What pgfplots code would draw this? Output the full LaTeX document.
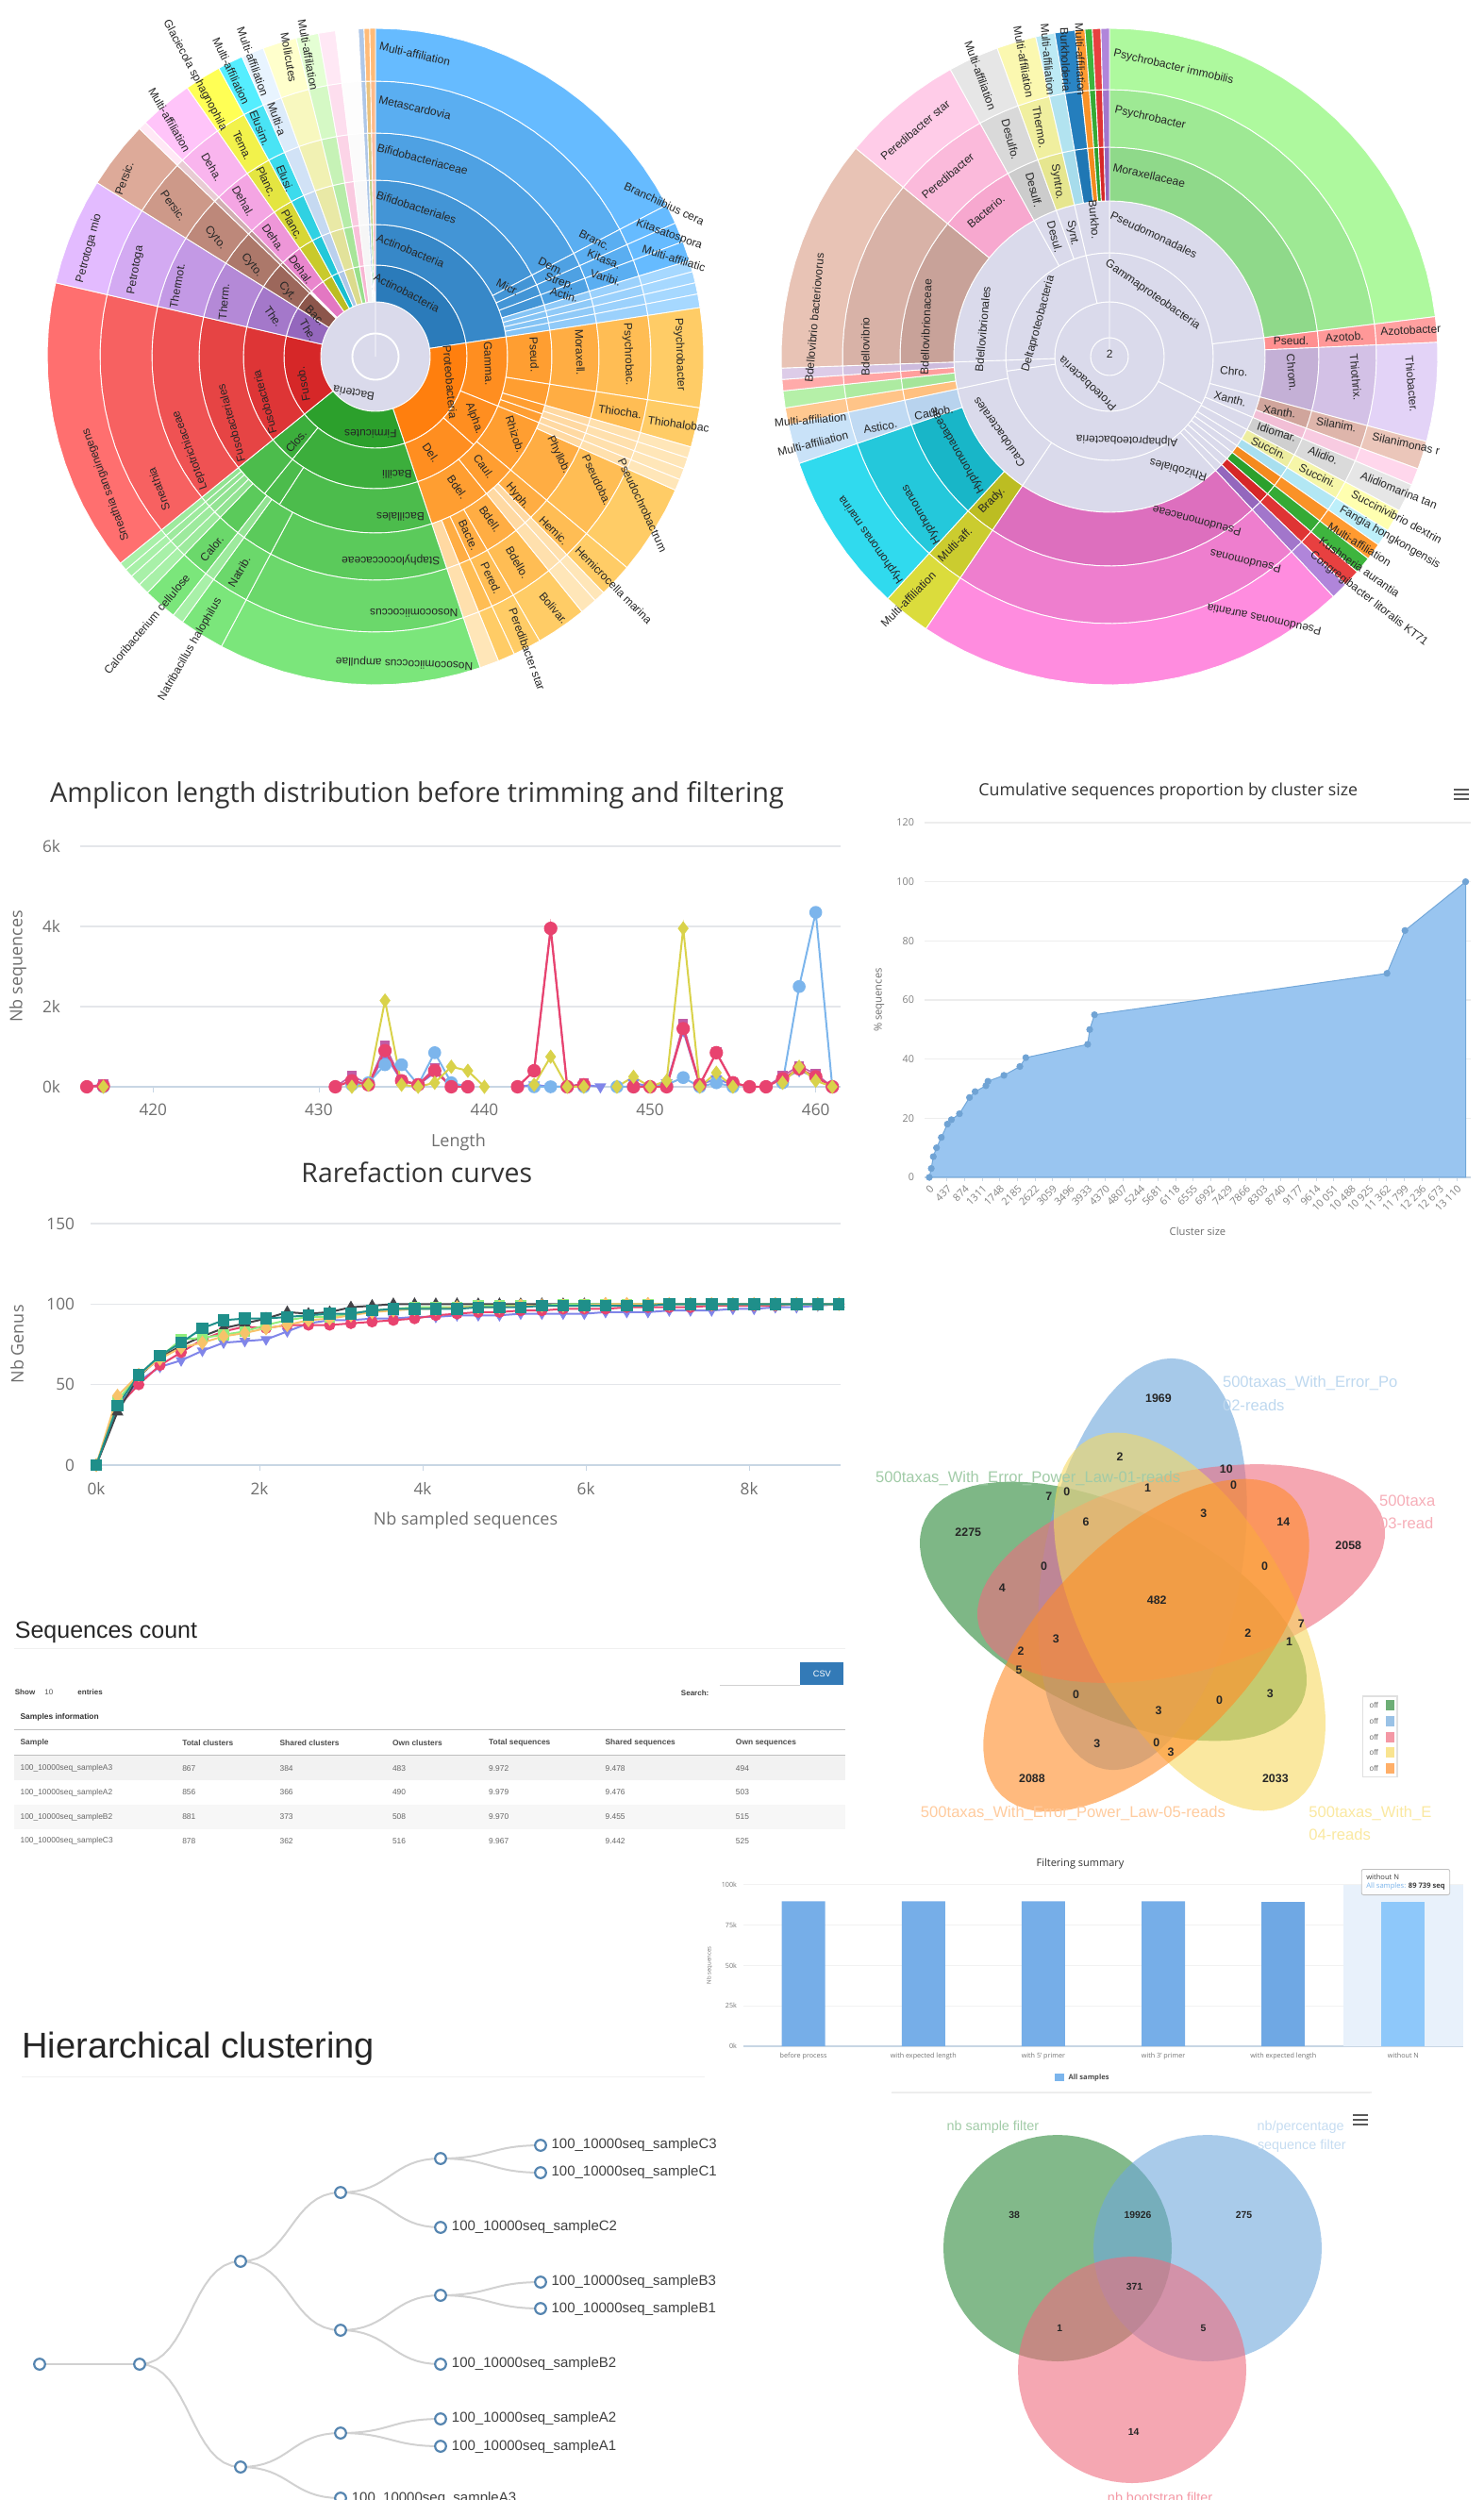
\documentclass[border=0pt]{standalone}
\usepackage{fontspec}
\usepackage{pgfplots}
\usepackage{pgfplotstable}
\pgfplotsset{compat=1.18}
\setmainfont{Open Sans}
\newfontfamily\ls{Liberation Sans}
\newcommand\fs[1]{\fontsize{#1}{#1}\selectfont}
\newcommand\sbf{\ls\fs{6}}
% sunburst colours
\definecolor{bD}{HTML}{2B7BBA}\definecolor{bL}{HTML}{66BBFF}
\definecolor{bS}{HTML}{6FB6EE}\definecolor{bT}{HTML}{A6D8FF}
\definecolor{oD}{HTML}{FF7F0E}\definecolor{oL}{HTML}{FFCC66}
\definecolor{oS}{HTML}{FFC680}\definecolor{oT}{HTML}{FFE6B8}
\definecolor{gD}{HTML}{2CA02C}\definecolor{gL}{HTML}{7BE67B}
\definecolor{gS}{HTML}{70D070}\definecolor{gT}{HTML}{A8F0A8}
\definecolor{rD}{HTML}{D62728}\definecolor{rL}{HTML}{FF6F6F}
\definecolor{pD}{HTML}{9467BD}\definecolor{pL}{HTML}{E3BBFF}
\definecolor{nD}{HTML}{8C564B}\definecolor{nL}{HTML}{DDAA99}
\definecolor{kD}{HTML}{E377C2}\definecolor{kL}{HTML}{FFC4F9}
\definecolor{yD}{HTML}{BCBD22}\definecolor{yL}{HTML}{FFFF55}
\definecolor{cD}{HTML}{17BECF}\definecolor{cL}{HTML}{55EEFF}
\definecolor{sD}{HTML}{AEC7E8}\definecolor{sL}{HTML}{E8F4FF}
\definecolor{tD}{HTML}{FFBB78}\definecolor{tL}{HTML}{FFF0CC}
\definecolor{uD}{HTML}{98DF8A}\definecolor{uL}{HTML}{E4FFD4}
\definecolor{vD}{HTML}{F7B6D2}\definecolor{vL}{HTML}{FFE8F5}
\definecolor{wD}{HTML}{F4F4F4}\definecolor{wL}{HTML}{FFFFFF}
\definecolor{zD}{HTML}{DBDB8D}\definecolor{zL}{HTML}{FFFFCC}
\definecolor{lav}{HTML}{DADAEB}
\definecolor{lavl}{HTML}{ECECF5}
\definecolor{sbtxt}{HTML}{262626}
% chart colours
\definecolor{gridc}{HTML}{E4E6EA}
\definecolor{axisc}{HTML}{C8D6E4}
\definecolor{tickc}{HTML}{6E6E6E}
\definecolor{titlec}{HTML}{333333}
\definecolor{hred}{HTML}{E8436F}
\definecolor{hmag}{HTML}{C05CA6}
\definecolor{hblue}{HTML}{7CB5EC}
\definecolor{hyel}{HTML}{D9D24A}
\definecolor{hvio}{HTML}{8085E9}
\definecolor{hteal}{HTML}{1F8F8A}
\definecolor{hblack}{HTML}{434348}
\definecolor{hgrn}{HTML}{90ED7D}
\definecolor{horg}{HTML}{F7C36A}
\definecolor{nodec}{HTML}{5585B0}
\definecolor{vGreen}{HTML}{2E8B3C}
\definecolor{vBlue}{HTML}{6FA8DC}
\definecolor{vRed}{HTML}{EF6C7E}
\definecolor{vYel}{HTML}{F6D860}
\definecolor{vOrg}{HTML}{FF8C28}
\definecolor{btn}{HTML}{337AB7}
\definecolor{barA}{HTML}{76AEE8}
\definecolor{barB}{HTML}{6FA8E4}
\definecolor{barC}{HTML}{8EC8FA}
\definecolor{bandc}{HTML}{E8F1FB}
\newcount\scnt
\newcounter{cc}
\def\pctexpr{(\k-1)*20}
% annular sector: t0 t1 r0 r1 colour, angles clockwise from the top
\newcommand\sect[5]{%
 \pgfmathsetmacro\sda{#2-(#1)}%
 \pgfmathtruncatemacro\snn{max(1,ceil(\sda/4))}%
 \def\scoords{}%
 \scnt=0
 \loop
  \pgfmathsetmacro\saa{#1+\sda*(\the\scnt/\snn)}%
  \pgfmathsetmacro\sX{\cx+(#4)*sin(\saa)}%
  \pgfmathsetmacro\sY{\cy-(#4)*cos(\saa)}%
  \edef\scoords{\scoords(\sX,\sY)}%
 \ifnum\scnt<\snn\relax\advance\scnt by 1 \repeat
 \scnt=\snn\relax
 \loop
  \pgfmathsetmacro\saa{#1+\sda*(\the\scnt/\snn)}%
  \pgfmathsetmacro\sX{\cx+(#3)*sin(\saa)}%
  \pgfmathsetmacro\sY{\cy-(#3)*cos(\saa)}%
  \edef\scoords{\scoords(\sX,\sY)}%
 \ifnum\scnt>0\relax\advance\scnt by -1 \repeat
 \edef\stmp{\noexpand\addplot[fill=#5,draw=white,line width=0.45pt] coordinates {\scoords} --cycle;}\stmp}
\newcommand\setrings[7]{\expandafter\def\csname rr0\endcsname{#1}\expandafter\def\csname rr1\endcsname{#2}\expandafter\def\csname rr2\endcsname{#3}\expandafter\def\csname rr3\endcsname{#4}\expandafter\def\csname rr4\endcsname{#5}\expandafter\def\csname rr5\endcsname{#6}\expandafter\def\csname rr6\endcsname{#7}}
% wedge across rings k0..k1
\newcommand\seg[6]{\foreach \k in {#3,...,#4}{%
 \pgfmathtruncatemacro\pct{\pctexpr}%
 \pgfmathtruncatemacro\km{\k-1}%
 \sect{#1}{#2}{\csname rr\km\endcsname}{\csname rr\k\endcsname}{#6!\pct!#5}}}
\newcommand\sll[5]{\foreach \ta/\tb in {#5}{\seg{\ta}{\tb}{#1}{#2}{#3}{#4}}}
% same with colours given in hexadecimal
\newcommand\hx[4]{\stepcounter{cc}\xglobal\definecolor{XD\thecc}{HTML}{#3}\xglobal\definecolor{XL\thecc}{HTML}{#4}%
 \edef\hxa{XD\thecc}\edef\hxb{XL\thecc}\seg{#1}{#2}{4}{6}{\hxa}{\hxb}}
% ellipse: cx cy a b phi colour opacity
\newcommand\ellp[7]{\def\scoords{}\scnt=0
 \loop
  \pgfmathsetmacro\ect{cos(\the\scnt*5)}\pgfmathsetmacro\est{sin(\the\scnt*5)}%
  \pgfmathsetmacro\sX{#1+(#3)*\ect*cos(#5)-(#4)*\est*sin(#5)}%
  \pgfmathsetmacro\sY{#2-(#3)*\ect*sin(#5)-(#4)*\est*cos(#5)}%
  \edef\scoords{\scoords(\sX,\sY)}%
 \ifnum\scnt<71\relax\advance\scnt by 1 \repeat
 \edef\stmp{\noexpand\addplot[fill=#6,fill opacity=#7,draw=none] coordinates {\scoords} --cycle;}\stmp}
% dendrogram link
\newcommand\lk[4]{\def\scoords{}\scnt=0
 \pgfmathsetmacro\lxm{(#1+#3)/2}%
 \loop
  \pgfmathsetmacro\lt{\the\scnt/16}\pgfmathsetmacro\lu{1-\lt}%
  \pgfmathsetmacro\sX{\lu*\lu*\lu*#1+3*\lu*\lu*\lt*\lxm+3*\lu*\lt*\lt*\lxm+\lt*\lt*\lt*#3}%
  \pgfmathsetmacro\sY{\lu*\lu*\lu*#2+3*\lu*\lu*\lt*#2+3*\lu*\lt*\lt*#4+\lt*\lt*\lt*#4}%
  \edef\scoords{\scoords(\sX,\sY)}%
 \ifnum\scnt<16\relax\advance\scnt by 1 \repeat
 \edef\stmp{\noexpand\addplot[draw=black!18,line width=1pt] coordinates {\scoords};}\stmp}
% placement in the coordinates of a zoomed crop
\newcommand\setp[4]{\def\psx{#1}\def\psy{#2}\def\pox{#3}\def\poy{#4}}
\newcommand\zlb[4]{\node[#3] at (axis cs:#1,#2) {#4};}
\newcommand\zl[4]{\pgfmathsetmacro\xx{\pox+#1/\psx}\pgfmathsetmacro\yy{\poy+#2/\psy}\edef\zc{\noexpand\zlb{\xx}{\yy}}\zc{#3}{#4}}
\newcommand\sbl[4]{\zl{#1}{#2}{rotate=#3,font=\sbf,text=sbtxt,inner sep=0pt}{#4}}
\newcommand\zrect[5]{\pgfmathsetmacro\xa{\pox+#1/\psx}\pgfmathsetmacro\ya{\poy+#2/\psy}\pgfmathsetmacro\xb{\pox+#3/\psx}\pgfmathsetmacro\yb{\poy+#4/\psy}%
 \edef\stmp{\noexpand\addplot[fill=#5,draw=none] coordinates {(\xa,\ya)(\xb,\ya)(\xb,\yb)(\xa,\yb)} --cycle;}\stmp}
\newcommand\zline[6]{\pgfmathsetmacro\xa{\pox+#1/\psx}\pgfmathsetmacro\ya{\poy+#2/\psy}\pgfmathsetmacro\xb{\pox+#3/\psx}\pgfmathsetmacro\yb{\poy+#4/\psy}%
 \edef\stmp{\noexpand\addplot[draw=#5,line width=#6] coordinates {(\xa,\ya)(\xb,\yb)};}\stmp}
\newcommand\menuicon[2]{\pgfmathsetmacro\xa{#1-8}\pgfmathsetmacro\xb{#1+8}\foreach \dy in {-5,0,5}{\pgfmathsetmacro\ya{#2+\dy}\edef\stmp{\noexpand\addplot[draw=black!65,line width=1.1pt] coordinates {(\xa,\ya)(\xb,\ya)};}\stmp}}
\newcommand\myvl[3]{\zl{#1}{#2}{font=\ls\bfseries\fs{6.2},text=black!85,inner sep=0pt}{#3}}
\newcommand\myvt[4]{\zl{#1}{#2}{anchor=west,font=\ls\fs{8.3},text=#3,inner sep=0pt}{#4}}
\newcommand\myul[3]{\zl{#1}{#2}{font=\ls\bfseries\fs{5.2},text=black!85,inner sep=0pt}{#3}}
\newcommand\mytc[3]{\zl{#1}{#2}{anchor=west,font=\ls\fs{4.2},text=black!60,inner sep=0pt}{#3}}
\newcommand\mytbh[2]{\zl{#1}{441}{anchor=west,font=\ls\bfseries\fs{4.2},text=black!70,inner sep=0pt}{#2}}
\newcommand\mydl[3]{\zl{#1}{#2}{anchor=west,font=\ls\fs{7.5},text=black!75,inner sep=0pt}{#3}}
% rarefaction values
\pgfplotstableread{
x teal black pink purple yellow green
0 0 0 0 0 0 0
260 37 33 36 36 43 40
520 56 55 50 52 56 56
780 68 67 62 61 66 67
1040 76 74 70 65 73 78
1300 85 80 78 71 76 79
1560 90 85 83 76 80 81
1820 91 88 86 77 82 83
2080 91 91 85 78 85 87
2340 92 95 87 83 87 90
2600 93 94 87 88 90 92
2860 94 95 87 90 91 92
3120 94 98 88 90 93 94
3380 96 99 89 91 95 96
3640 97 100 90 91 96 97
3900 97 100 91 92 97 98
4160 97 100 93 92 97 98
4420 97 100 94 93 98 98
4680 98 100 95 93 98 99
4940 98 100 95 93 98 99
5200 98 100 96 94 99 99
5460 99 100 96 94 99 99
5720 99 100 97 94 99 100
5980 99 100 97 94 99 100
6240 99 100 97 95 100 100
6500 99 100 98 95 100 100
6760 99 100 98 95 100 100
7020 100 100 98 96 100 100
7280 100 100 98 96 100 100
7540 100 100 99 96 100 100
7800 100 100 99 97 100 100
8060 100 100 99 97 100 100
8320 100 100 99 98 100 100
8580 100 100 100 98 100 100
8840 100 100 100 99 100 100
9100 100 100 100 100 100 100
}\rare
\pgfplotsset{hc/.style={scale only axis,anchor=south west,axis x line=bottom,axis y line=left,
 axis line style={-},x axis line style={draw=axisc,line width=.6pt},y axis line style={draw=none},
 ytick style={draw=none},xtick style={draw=axisc},tick align=outside,major tick length=3pt,
 ymajorgrids,grid style={draw=gridc,line width=.8pt},clip=false,
 scaled x ticks=false,scaled y ticks=false,
 /pgf/number format/assume math mode=true,/pgf/number format/1000 sep={},
 tick label style={text=tickc},unbounded coords=jump}}
\begin{document}
\begin{tikzpicture}
\useasboundingbox (0,0) rectangle (786.5pt,1325pt);
\begin{axis}[at={(0,0)},anchor=south west,scale only axis,width=786.5pt,height=1325pt,hide axis,clip=false,
 xmin=0,xmax=1573,ymin=0,ymax=2650,y dir=reverse]
%%%%%%%%%% sunburst 1
\def\cx{398}\def\cy{378}
\setrings{58}{97}{140}{187}{237}{292}{348}
\sect{0}{360}{0}{58}{lav}
\seg{0}{81.4}{1}{2}{bD}{bL}
\sll{3}{6}{bD}{bL}{0/62.5,62.5/66,66/69.5,69.5/73}
\sll{3}{6}{bS}{bT}{73/75,75/77,77/79,79/81.4}
\seg{81.4}{161.4}{1}{1}{oD}{oL}
\sll{2}{2}{oD}{oL}{81.4/112,112/132,132/161.4}
\sll{3}{3}{oD}{oL}{81.4/99,99/106,106/109,109/112,112/130,130/141,141/161.4}
\sll{4}{6}{oD}{oL}{81.4/99,99/106,114/130,130/136,141/150,150/155,155/158}
\sll{4}{6}{oS}{oT}{106/108,108/110,110/112,112/114,136/138,138/141,158/161.4}
\seg{161.4}{231}{1}{1}{gD}{gL}
\sll{2}{2}{gD}{gL}{161.4/219,219/231}
\sll{3}{3}{gD}{gL}{161.4/213,213/219,219/231}
\sll{4}{6}{gD}{gL}{161.4/208,208/216,218/224}
\sll{4}{6}{gS}{gT}{216/218,224/226,226/228,228/229.5,229.5/231}
\seg{231}{283}{1}{6}{rD}{rL}
\seg{283}{302}{1}{6}{pD}{pL}
\seg{302}{314}{1}{6}{nD}{nL}
\seg{314}{315.5}{2}{6}{nD}{vL}
\seg{315.5}{325}{1}{6}{kD}{kL}
\seg{325}{331.5}{1}{6}{yD}{yL}
\seg{331.5}{336}{1}{6}{cD}{cL}
\seg{336}{340}{1}{6}{sD}{sL}
\seg{340}{346}{1}{6}{zD}{zL}
\seg{346}{350}{1}{6}{uD}{uL}
\seg{350}{353}{1}{6}{vD}{vL}
\seg{353}{357}{1}{6}{wD}{wL}
\seg{357}{358}{1}{6}{sD}{sD}
\seg{358}{359}{1}{6}{uD}{tD}
\seg{359}{360}{1}{6}{vD}{tD}
\setp{1.96}{2.063}{0}{0}
\sbl{862}{118}{-13}{Multi-affiliation}
\sbl{862}{235}{-13}{Metascardovia}
\sbl{878}{348}{-15}{Bifidobacteriaceae}
\sbl{865}{453}{-18}{Bifidobacteriales}
\sbl{853}{548}{-22}{Actinobacteria}
\sbl{845}{640}{-27}{Actinobacteria}
\sbl{1380}{445}{-25}{Branchiibius cera}
\sbl{1235}{525}{-27}{Branc.}
\sbl{1145}{582}{-27}{Dem.}
\sbl{1055}{628}{-27}{Micr.}
\sbl{1390}{513}{-20}{Kitasatospora}
\sbl{1255}{567}{-22}{Kitasa.}
\sbl{1162}{617}{-20}{Strep.}
\sbl{1400}{565}{-17}{Multi-affiliatic}
\sbl{1258}{607}{-17}{Varibi.}
\sbl{1172}{645}{-15}{Actin.}
\sbl{1412}{775}{-88}{Psychrobacter}
\sbl{1305}{775}{-88}{Psychrobac.}
\sbl{1205}{770}{-88}{Moraxell.}
\sbl{1110}{775}{-88}{Pseud.}
\sbl{1015}{795}{-88}{Gamma.}
\sbl{935}{835}{-85}{Proteobacteria}
\sbl{1288}{900}{-8}{Thiocha.}
\sbl{1410}{928}{-8}{Thiohalobac}
\sbl{1070}{950}{-72}{Rhizob.}
\sbl{1160}{995}{-65}{Phyllob.}
\sbl{1240}{1050}{-65}{Pseudoba.}
\sbl{1335}{1105}{-65}{Pseudochrobactrum}
\sbl{985}{915}{-70}{Alpha.}
\sbl{1005}{1020}{-55}{Caul.}
\sbl{1075}{1085}{-50}{Hyph.}
\sbl{1150}{1160}{-45}{Hemic.}
\sbl{1275}{1280}{-45}{Hemicrocella marina}
\sbl{895}{990}{-55}{Del.}
\sbl{950}{1065}{-55}{Bdel.}
\sbl{1018}{1135}{-55}{Bdell.}
\sbl{1075}{1230}{-60}{Bdello.}
\sbl{1150}{1330}{-50}{Bolivar.}
\sbl{973}{1170}{-65}{Bacte.}
\sbl{1020}{1265}{-65}{Pered.}
\sbl{1095}{1420}{-70}{Peredibacter star}
\sbl{770}{948}{180}{Firmicutes}
\sbl{825}{1037}{180}{Bacilli}
\sbl{832}{1130}{180}{Bacillales}
\sbl{812}{1225}{180}{Staphylococcaceae}
\sbl{860}{1340}{180}{Nosocomiicoccus}
\sbl{840}{1450}{178}{Nosocomiicoccus ampullae}
\sbl{615}{965}{50}{Clos.}
\sbl{440}{1200}{50}{Calor.}
\sbl{305}{1365}{50}{Caloribacterium cellulose}
\sbl{497}{1250}{60}{Natrib.}
\sbl{395}{1420}{60}{Natribacillus halophilus}
\sbl{630}{840}{100}{Fusob.}
\sbl{550}{880}{105}{Fusobacteria}
\sbl{480}{925}{105}{Fusobacteriales}
\sbl{395}{985}{110}{Leptotrichiaceae}
\sbl{330}{1070}{110}{Sneathia}
\sbl{220}{1060}{110}{Sneathia sanguinegens}
\sbl{185}{543}{75}{Petrotoga mio}
\sbl{282}{590}{80}{Petrotoga}
\sbl{368}{625}{80}{Thermot.}
\sbl{465}{660}{85}{Therm.}
\sbl{568}{692}{-55}{The.}
\sbl{640}{722}{-60}{The.}
\sbl{258}{390}{70}{Persic.}
\sbl{360}{450}{-55}{Persic.}
\sbl{447}{520}{-50}{Cyto.}
\sbl{523}{580}{-50}{Cyto.}
\sbl{597}{637}{-50}{Cyt.}
\sbl{655}{690}{-45}{Bac.}
\sbl{352}{262}{-60}{Multi-affiliation}
\sbl{440}{365}{-60}{Deha.}
\sbl{505}{440}{-60}{Dehal.}
\sbl{568}{520}{-55}{Deha.}
\sbl{625}{590}{-55}{Dehal.}
\sbl{405}{165}{-62}{Glaciecola sphagnophila}
\sbl{503}{318}{-65}{Tema.}
\sbl{553}{397}{-65}{Planc.}
\sbl{607}{490}{-60}{Planc.}
\sbl{480}{155}{-65}{Multi-affiliation}
\sbl{540}{280}{-68}{Elusim.}
\sbl{592}{390}{-68}{Elusi.}
\sbl{525}{135}{-70}{Multi-affiliation}
\sbl{575}{260}{-70}{Multi-a}
\sbl{600}{125}{-80}{Mollicutes}
\sbl{640}{120}{-80}{Multi-affiliation}
\sect{0}{360}{24}{25}{lavl}
\sbl{735}{860}{170}{Bacteria}
%%%%%%%%%% sunburst 2
\def\cx{1176}\def\cy{378}
\setrings{20}{58}{110}{165}{222}{283}{348}
\sect{0}{360}{0}{20}{lav}
\seg{0}{360}{1}{1}{lav}{lav}
\sll{2}{2}{lav}{lav}{0/117,117/262,262/268,268/347,347/360}
\sll{3}{3}{lav}{lav}{0/83,83/105,105/113,113/118,118/122,122/125,125/128,128/131,131/134,134/137,137/214,214/258,258/268,268/331,331/340,340/347,347/360}
\def\pctexpr{(\k-4)*50}
\hx{0}{83}{8FD98A}{AEF99E}
\hx{83}{87.5}{FF9090}{FFA0A0}
\hx{87.5}{105}{C4B0D6}{E3D3F7}
\hx{105}{110}{D0A59C}{EBC6BA}
\hx{110}{113}{F2BFD6}{FFD7EC}
\hx{113}{118}{CFCFCF}{E6E6E6}
\hx{118}{122}{EDEDA0}{FFFFB0}
\hx{122}{125}{A8DFEF}{BDEFFA}
\hx{125}{128}{F58A1E}{FF9A30}
\hx{128}{131}{2CA02C}{3EB53E}
\hx{131}{134}{D62728}{E84040}
\hx{134}{137}{9467BD}{B085DA}
\hx{137}{214}{DD6FBE}{FF8CDF}
\hx{214}{222.5}{BCBD22}{DBDC3C}
\hx{222.5}{251}{18B6C8}{30DAEE}
\hx{251}{258}{B8D3EE}{C9E2F8}
\hx{258}{261}{FFC080}{FFC890}
\hx{261}{264}{A5E59A}{B5F0A8}
\hx{264}{266}{FF9F9D}{FFABAA}
\hx{266}{268}{CDBBDD}{DDCCE8}
\hx{268}{309.4}{C8A299}{E8C3B5}
\hx{309.4}{331}{F7A8CF}{FFCCE8}
\hx{331}{340}{CCCCCC}{E6E6E6}
\hx{340}{347}{E6E68F}{FBF8B0}
\hx{347}{350.4}{A7DCEC}{BDEAF5}
\hx{350.4}{354}{1F77B4}{2A85C5}
\hx{354}{355.7}{F58A1E}{FF9A30}
\hx{355.7}{357}{2CA02C}{3EB53E}
\hx{357}{358.5}{D62728}{E84040}
\hx{358.5}{360}{9467BD}{B085DA}
\setp{2.028}{2.063}{800}{0}
\sbl{763}{775}{0}{2}
\sbl{900}{147}{-13}{Psychrobacter immobilis}
\sbl{850}{258}{-13}{Psychrobacter}
\sbl{848}{383}{-13}{Moraxellaceae}
\sbl{858}{513}{-25}{Pseudomonadales}
\sbl{855}{645}{-35}{Gammaproteobacteria}
\sbl{1153}{745}{0}{Pseud.}
\sbl{1268}{737}{3}{Azotob.}
\sbl{1410}{722}{3}{Azotobacter}
\sbl{1155}{815}{-85}{Chrom.}
\sbl{1292}{825}{-85}{Thiothrix.}
\sbl{1412}{840}{-85}{Thiobacter.}
\sbl{1030}{812}{-5}{Chro.}
\sbl{1022}{872}{-15}{Xanth.}
\sbl{1128}{900}{-10}{Xanth.}
\sbl{1250}{928}{-10}{Silanim.}
\sbl{1400}{970}{-12}{Silanimonas r}
\sbl{1122}{945}{-18}{Idiomar.}
\sbl{1222}{995}{-22}{Alidio.}
\sbl{1385}{1072}{-22}{Alidiomarina tan}
\sbl{1105}{980}{-25}{Succin.}
\sbl{1210}{1040}{-27}{Succini.}
\sbl{1380}{1130}{-28}{Succinivibrio dextrin}
\sbl{1365}{1175}{-30}{Fangia hongkongensis}
\sbl{1300}{1190}{-32}{Multi-affiliation}
\sbl{1300}{1240}{-35}{Kushneria aurantia}
\sbl{1320}{1310}{-38}{Congregibacter litoralis KT71}
\sbl{1095}{1355}{168}{Pseudomonas aurantia}
\sbl{1055}{1228}{167}{Pseudomonas}
\sbl{950}{1140}{165}{Pseudomonaceae}
\sbl{910}{1028}{165}{Rhizobiales}
\sbl{800}{962}{178}{Alphaproteobacteria}
\sbl{715}{840}{137}{Proteobacteria}
\sbl{525}{945}{125}{Caulobacterales}
\sbl{435}{985}{120}{Hyphomonadaceae}
\sbl{358}{1125}{120}{Hyphomonas}
\sbl{250}{1180}{125}{Hyphomonas marina}
\sbl{510}{1095}{45}{Brady.}
\sbl{430}{1190}{45}{Multi-aff.}
\sbl{330}{1310}{45}{Multi-affiliation}
\sbl{125}{970}{14}{Multi-affiliation}
\sbl{270}{933}{10}{Astico.}
\sbl{385}{902}{10}{Caulob.}
\sbl{120}{918}{5}{Multi-affiliation}
\sbl{128}{695}{85}{Bdellovibrio bacteriovorus}
\sbl{238}{758}{90}{Bdellovibrio}
\sbl{368}{715}{88}{Bdellovibrionaceae}
\sbl{490}{720}{85}{Bdellovibrionales}
\sbl{610}{708}{75}{Deltaproteobacteria}
\sbl{345}{285}{40}{Peredibacter star}
\sbl{415}{385}{40}{Peredibacter}
\sbl{497}{463}{40}{Bacterio.}
\sbl{485}{165}{-70}{Multi-affiliation}
\sbl{550}{305}{-75}{Desulfo.}
\sbl{600}{415}{-75}{Desulf.}
\sbl{645}{518}{-75}{Desul.}
\sbl{578}{135}{-80}{Multi-affiliation}
\sbl{613}{278}{-80}{Thermo.}
\sbl{650}{398}{-82}{Syntro.}
\sbl{683}{510}{-80}{Synt.}
\sbl{630}{130}{-85}{Multi-affiliation}
\sbl{668}{130}{-88}{Burkholderia}
\sbl{700}{130}{-88}{Multi-affiliation}
\sbl{730}{480}{-85}{Burkho.}
%%%%%%%%%% five-set Venn
\ellp{1180}{1708}{222}{108}{-26}{vGreen}{0.62}
\ellp{1211}{1658}{221}{105}{79.6}{vBlue}{0.62}
\ellp{1252}{1668}{221.6}{105}{14.6}{vRed}{0.6}
\ellp{1261}{1719}{221}{110}{119}{vYel}{0.6}
\ellp{1215}{1744}{221}{110}{46}{vOrg}{0.6}
\setp{2.365}{2.8}{910}{1420}
\myvl{752}{175}{1969}\myvl{655}{348}{2}\myvl{922}{385}{10}\myvl{940}{433}{0}\myvl{477}{465}{7}\myvl{522}{450}{0}\myvl{725}{440}{1}\myvl{865}{515}{3}
\myvl{570}{540}{6}\myvl{1065}{540}{14}\myvl{275}{572}{2275}\myvl{1228}{612}{2058}\myvl{465}{672}{0}\myvl{1018}{672}{0}\myvl{360}{738}{4}\myvl{748}{772}{482}
\myvl{1110}{843}{7}\myvl{976}{870}{2}\myvl{1080}{897}{1}\myvl{495}{887}{3}\myvl{407}{925}{2}\myvl{402}{980}{5}\myvl{545}{1052}{0}\myvl{1032}{1052}{3}
\myvl{905}{1070}{0}\myvl{752}{1102}{3}\myvl{598}{1200}{3}\myvl{747}{1195}{0}\myvl{783}{1225}{3}\myvl{435}{1302}{2088}\myvl{1045}{1302}{2033}
\myvt{42}{412}{vGreen!45!white}{500taxas\_With\_Error\_Power\_Law-01-reads}
\myvt{912}{130}{vBlue!45!white}{500taxas\_With\_Error\_Po}
\myvt{912}{195}{vBlue!45!white}{02-reads}
\myvt{1305}{478}{vRed!55!white}{500taxa}
\myvt{1305}{545}{vRed!55!white}{03-read}
\myvt{155}{1405}{vOrg!45!white}{500taxas\_With\_Error\_Power\_Law-05-reads}
\myvt{1128}{1405}{vYel!60!white}{500taxas\_With\_E}
\myvt{1128}{1470}{vYel!60!white}{04-reads}
\zrect{1262}{1055}{1352}{1300}{black!12}
\zrect{1265}{1060}{1349}{1295}{white}
\zrect{1322}{1070}{1344}{1100}{vGreen!70!white}
\zrect{1322}{1117}{1344}{1147}{vBlue!70!white}
\zrect{1322}{1165}{1344}{1195}{vRed!70!white}
\zrect{1322}{1210}{1344}{1240}{vYel!70!white}
\zrect{1322}{1258}{1344}{1288}{vOrg!70!white}
\zl{1292}{1085}{font=\ls\fs{4.2},text=black!55,inner sep=0pt}{off}
\zl{1292}{1132}{font=\ls\fs{4.2},text=black!55,inner sep=0pt}{off}
\zl{1292}{1180}{font=\ls\fs{4.2},text=black!55,inner sep=0pt}{off}
\zl{1292}{1225}{font=\ls\fs{4.2},text=black!55,inner sep=0pt}{off}
\zl{1292}{1273}{font=\ls\fs{4.2},text=black!55,inner sep=0pt}{off}
%%%%%%%%%% three-set Venn
\ellp{1121}{2383}{121}{120}{0}{vGreen}{0.6}
\ellp{1280}{2383}{121}{120}{0}{vBlue}{0.6}
\ellp{1200}{2512}{121}{120}{0}{vRed}{0.6}
\setp{2.33}{3}{900}{2210}
\zline{105}{24}{1290}{24}{black!6}{.8pt}
\myul{408}{415}{38}\myul{713}{415}{19926}\myul{975}{415}{275}\myul{705}{642}{371}\myul{520}{775}{1}\myul{875}{775}{5}\myul{703}{1105}{14}
\zl{355}{135}{font=\ls\fs{7.2},text=vGreen!45!white,inner sep=0pt}{nb sample filter}
\zl{1115}{135}{font=\ls\fs{7.2},text=vBlue!40!white,inner sep=0pt}{nb/percentage}
\zl{1118}{195}{font=\ls\fs{7.2},text=vBlue!40!white,inner sep=0pt}{sequence filter}
\zl{768}{1315}{font=\ls\fs{7.2},text=vRed!70!white,inner sep=0pt}{nb bootstrap filter}
\menuicon{1442}{2247}
%%%%%%%%%% table
\setp{1.742}{3}{0}{1700}
\zl{27}{92}{anchor=west,font=\ls\fs{12.5},text=black!85,inner sep=0pt}{Sequences count}
\zline{27}{142}{1560}{142}{black!6}{.6pt}
\zrect{1478}{187}{1558}{257}{btn}
\zl{1518}{222}{font=\ls\fs{4.6},text=white,inner sep=0pt}{CSV}
\zl{27}{280}{anchor=west,font=\ls\bfseries\fs{4},text=black!75,inner sep=0pt}{Show}
\zl{82}{280}{anchor=west,font=\ls\fs{4},text=black!65,inner sep=0pt}{10}
\zl{143}{280}{anchor=west,font=\ls\bfseries\fs{4},text=black!75,inner sep=0pt}{entries}
\zl{1257}{285}{anchor=west,font=\ls\bfseries\fs{4},text=black!75,inner sep=0pt}{Search:}
\zline{1330}{258}{1478}{258}{black!18}{.5pt}
\zl{37}{360}{anchor=west,font=\ls\bfseries\fs{4.2},text=black!80,inner sep=0pt}{Samples information}
\zline{27}{400}{1560}{400}{black!25}{.8pt}
\zline{27}{482}{1560}{482}{black!25}{.8pt}
\zrect{27}{484}{1560}{560}{black!5}
\zrect{27}{638}{1560}{716}{black!3}
\mytbh{37}{Sample}\mytbh{336}{Total clusters}\mytbh{516}{Shared clusters}\mytbh{724}{Own clusters}\mytbh{902}{Total sequences}\mytbh{1117}{Shared sequences}\mytbh{1358}{Own sequences}
\mytc{37}{523}{100\_10000seq\_sampleA3}\mytc{336}{523}{867}\mytc{516}{523}{384}\mytc{724}{523}{483}\mytc{902}{523}{9.972}\mytc{1117}{523}{9.478}\mytc{1358}{523}{494}
\mytc{37}{600}{100\_10000seq\_sampleA2}\mytc{336}{600}{856}\mytc{516}{600}{366}\mytc{724}{600}{490}\mytc{902}{600}{9.979}\mytc{1117}{600}{9.476}\mytc{1358}{600}{503}
\mytc{37}{678}{100\_10000seq\_sampleB2}\mytc{336}{678}{881}\mytc{516}{678}{373}\mytc{724}{678}{508}\mytc{902}{678}{9.970}\mytc{1117}{678}{9.455}\mytc{1358}{678}{515}
\mytc{37}{755}{100\_10000seq\_sampleC3}\mytc{336}{755}{878}\mytc{516}{755}{362}\mytc{724}{755}{516}\mytc{902}{755}{9.967}\mytc{1117}{755}{9.442}\mytc{1358}{755}{525}
%%%%%%%%%% dendrogram
\setp{1.96}{3}{0}{2130}
\zl{45}{125}{anchor=west,font=\ls\fs{19},text=black!85,inner sep=0pt}{Hierarchical clustering}
\zline{45}{215}{1465}{215}{black!6}{.8pt}
\lk{42}{2506}{148}{2506}
\lk{148}{2506}{255}{2397}\lk{148}{2506}{255}{2615}
\lk{255}{2397}{361}{2324}\lk{255}{2397}{361}{2470}
\lk{361}{2324}{467}{2288}\lk{361}{2324}{467}{2361}
\lk{467}{2288}{573}{2274}\lk{467}{2288}{573}{2303}
\lk{361}{2470}{467}{2433}\lk{361}{2470}{467}{2506}
\lk{467}{2433}{573}{2419}\lk{467}{2433}{573}{2447}
\lk{255}{2615}{361}{2579}\lk{255}{2615}{361}{2648}
\lk{361}{2579}{467}{2564}\lk{361}{2579}{467}{2593}
\addplot[only marks,mark=*,mark size=2.9pt,mark options={fill=white,draw=nodec,line width=1.1pt}] coordinates {
(42,2506)(148,2506)(255,2397)(255,2615)(361,2324)(361,2470)(361,2579)(361,2648)(467,2288)(467,2361)(467,2433)(467,2506)(467,2564)(467,2593)(573,2274)(573,2303)(573,2419)(573,2447)};
\mydl{1145}{432}{100\_10000seq\_sampleC3}\mydl{1145}{518}{100\_10000seq\_sampleC1}\mydl{938}{692}{100\_10000seq\_sampleC2}
\mydl{1145}{866}{100\_10000seq\_sampleB3}\mydl{1145}{952}{100\_10000seq\_sampleB1}\mydl{938}{1128}{100\_10000seq\_sampleB2}
\mydl{938}{1302}{100\_10000seq\_sampleA2}\mydl{938}{1390}{100\_10000seq\_sampleA1}\mydl{730}{1555}{100\_10000seq\_sampleA3}
%%%%%%%%%% icons and legend
\menuicon{1549}{842}
\setp{1.882}{3}{740}{1950}
\zrect{712}{745}{730}{768}{hblue}
\zl{738}{757}{anchor=west,font=\bfseries\fs{3.8},text=black!70,inner sep=0pt}{All samples}
\zline{385}{805}{1340}{805}{black!8}{.6pt}
\end{axis}
%%%%%%%%%% amplicon length
\begin{axis}[hc,at={(42.5pt,749pt)},width=403pt,height=127.5pt,
 xmin=415.6,xmax=461.5,ymin=0,ymax=6000,
 xtick={420,430,440,450,460},ytick={0,2000,4000,6000},yticklabels={0k,2k,4k,6k},
 tick label style={font=\fs{8.6}},
 yticklabel style={xshift=-4pt},xticklabel style={yshift=-2.5pt},
 title={Amplicon length distribution before trimming and filtering},
 title style={yshift=-6pt,at={(axis description cs:.443,1.212)},anchor=center,font=\fs{14.4},text=titlec},
 xlabel={Length},xlabel style={at={(axis description cs:.4975,-.23)},anchor=center,font=\fs{9},text=tickc},
 ylabel={Nb sequences},ylabel style={at={(axis description cs:-.082,.5)},anchor=center,font=\fs{9},text=tickc}]
\addplot[color=hvio,line width=1pt,mark=triangle*,mark size=2.6pt,mark options={rotate=180}] coordinates {(416,0)(417,50)(418,nan)(432,150)(433,50)(434,800)(435,150)(436,50)(437,350)(438,50)(439,0)(440,nan)(442,0)(443,50)(444,0)(445,0)(446,50)(447,0)(448,nan)(449,100)(450,0)(451,100)(452,1400)(453,50)(454,200)(455,50)(456,nan)(458,200)(459,400)(460,250)(461,0)};
\addplot[color=hmag,line width=.8pt,mark=square*,mark size=2.2pt] coordinates {(416,0)(417,60)(418,nan)(431,0)(432,280)(433,60)(434,1030)(435,170)(436,60)(437,470)(438,0)(439,0)(440,nan)(442,0)(443,400)(444,3950)(445,0)(446,90)(447,nan)(449,0)(450,0)(451,0)(452,1560)(453,60)(454,860)(455,110)(456,0)(457,0)(458,270)(459,520)(460,320)(461,0)};
\addplot[color=hblue,line width=1pt,mark=*,mark size=2.9pt] coordinates {(417,0)(418,nan)(432,50)(433,100)(434,550)(435,550)(436,50)(437,850)(438,100)(439,0)(440,nan)(443,0)(444,0)(445,0)(446,0)(447,nan)(448,0)(449,0)(450,0)(451,50)(452,230)(453,0)(454,100)(455,0)(456,nan)(458,100)(459,2500)(460,4350)(461,0)};
\addplot[color=hred,line width=1.1pt,mark=*,mark size=3pt] coordinates {(416,0)(417,20)(418,nan)(431,0)(432,150)(433,50)(434,900)(435,150)(436,50)(437,400)(438,0)(439,0)(440,nan)(442,0)(443,400)(444,3950)(445,0)(446,50)(447,nan)(449,0)(450,0)(451,0)(452,1450)(453,50)(454,850)(455,100)(456,0)(457,0)(458,200)(459,450)(460,250)(461,0)};
\addplot[color=hyel,line width=1pt,mark=diamond*,mark size=3pt] coordinates {(417,0)(418,nan)(432,0)(433,50)(434,2150)(435,50)(436,0)(437,100)(438,500)(439,400)(440,0)(441,nan)(443,50)(444,750)(445,0)(446,0)(447,nan)(448,0)(449,250)(450,0)(451,150)(452,3950)(453,0)(454,350)(455,0)(456,nan)(458,100)(459,500)(460,150)(461,0)};
\end{axis}
%%%%%%%%%% rarefaction
\begin{axis}[hc,at={(48pt,548.5pt)},width=397.5pt,height=128pt,
 xmin=-70,xmax=9120,ymin=0,ymax=150,
 xtick={0,2000,4000,6000,8000},xticklabels={0k,2k,4k,6k,8k},ytick={0,50,100,150},
 tick label style={font=\fs{8.6}},
 yticklabel style={xshift=-2pt},xticklabel style={yshift=-2.5pt},
 title={Rarefaction curves},
 title style={yshift=-6pt,at={(axis description cs:.435,1.21)},anchor=center,font=\fs{14.2},text=titlec},
 xlabel={Nb sampled sequences},xlabel style={at={(axis description cs:.5,-.23)},anchor=center,font=\fs{9},text=tickc},
 ylabel={Nb Genus},ylabel style={at={(axis description cs:-.098,.5)},anchor=center,font=\fs{9},text=tickc}]
\addplot[color=hvio,line width=1pt,mark=triangle*,mark size=2.4pt,mark options={rotate=180}] table[x=x,y=purple]{\rare};
\addplot[color=hred,line width=1pt,mark=*,mark size=2.5pt] table[x=x,y=pink]{\rare};
\addplot[color=hblack,line width=1pt,mark=triangle*,mark size=2.6pt] table[x=x,y=black]{\rare};
\addplot[color=hgrn,line width=1pt,mark=square*,mark size=2.4pt] table[x=x,y=green]{\rare};
\addplot[color=horg,line width=1pt,mark=diamond*,mark size=3pt] table[x=x,y=yellow]{\rare};
\addplot[color=hteal,line width=1pt,mark=square*,mark size=2.6pt] table[x=x,y=teal]{\rare};
\end{axis}
%%%%%%%%%% cumulative
\begin{axis}[hc,at={(490pt,701pt)},width=289.5pt,height=188pt,
 xmin=-117,xmax=13462,ymin=0,ymax=120,
 xtick={0,437,874,1311,1748,2185,2622,3059,3496,3933,4370,4807,5244,5681,6118,6555,6992,7429,7866,8303,8740,9177,9614,10051,10488,10925,11362,11799,12236,12673,13110},
 xticklabels={0,437,874,1311,1748,2185,2622,3059,3496,3933,4370,4807,5244,5681,6118,6555,6992,7429,7866,8303,8740,9177,9614,10 051,10 488,10 925,11 362,11 799,12 236,12 673,13 110},
 ytick={0,20,40,60,80,100,120},
 tick label style={font=\fs{5.4},text=black!50},major tick length=2pt,
 xticklabel style={rotate=45,anchor=north east,inner sep=1pt},
 grid style={draw=black!7,line width=.6pt},
 title={Cumulative sequences proportion by cluster size},
 title style={yshift=-6pt,at={(axis description cs:.446,1.088)},anchor=center,font=\fs{8.9},text=titlec},
 xlabel={Cluster size},xlabel style={at={(axis description cs:.5,-.152)},anchor=center,font=\fs{5.6},text=tickc},
 ylabel={\% sequences},ylabel style={at={(axis description cs:-.083,.5)},anchor=center,font=\fs{5.6},text=tickc}]
\addplot[fill=hblue!78!white,draw=hblue!92!black,line width=.5pt] coordinates {(0,0)(50,3)(100,7)(180,10)(300,13.5)(450,18)(550,19.5)(750,21.5)(1000,27)(1140,29)(1408,31)(1458,32.5)(1855,34.5)(2252,37.5)(2400,40.5)(3938,45)(3988,50)(4107,55)(11379,69)(11825,83.5)(13333,100)} \closedcycle;
\addplot[only marks,mark=*,mark size=1.6pt,color=hblue!90!black] coordinates {(0,0)(50,3)(100,7)(180,10)(300,13.5)(450,18)(550,19.5)(750,21.5)(1000,27)(1140,29)(1408,31)(1458,32.5)(1855,34.5)(2252,37.5)(2400,40.5)(3938,45)(3988,50)(4107,55)(11379,69)(11825,83.5)(13333,100)};
\end{axis}
%%%%%%%%%% filtering summary
\begin{axis}[hc,at={(394pt,240.5pt)},width=381.5pt,height=85.5pt,
 xmin=-.5,xmax=5.5,ymin=0,ymax=100000,
 xtick={0,1,2,3,4,5},xticklabels={before process,with expected length,with 5' primer,with 3' primer,with expected length,without N},
 ytick={0,25000,50000,75000,100000},yticklabels={0k,25k,50k,75k,100k},
 tick label style={font=\fs{3.6},text=black!55},major tick length=0pt,
 grid style={draw=black!5,line width=.5pt},
 title={Filtering summary},
 title style={yshift=-6pt,at={(axis description cs:.468,1.129)},anchor=center,font=\fs{5.5},text=titlec},
 ylabel={Nb sequences},ylabel style={at={(axis description cs:-.047,.5)},anchor=center,font=\fs{3},text=tickc}]
\addplot[fill=bandc,draw=none] coordinates {(4.5,0)(4.5,100000)(5.5,100000)(5.5,0)} --cycle;
\addplot[ybar,bar width=23pt,bar shift=0pt,fill=barA,draw=none] coordinates {(0,89900)(1,89880)(2,89860)(3,89800)};
\addplot[ybar,bar width=23pt,bar shift=0pt,fill=barB,draw=none] coordinates {(4,89760)};
\addplot[ybar,bar width=23pt,bar shift=0pt,fill=barC,draw=none] coordinates {(5,89739)};
\node[draw=black!25,fill=white,fill opacity=.9,text opacity=1,rounded corners=1pt,align=left,font=\fs{3.8},inner sep=2.5pt,text=black!75] at (axis cs:5.02,101750) {without N\\[1pt]{\color{hblue}All samples:} \textbf{89 739 seq}};
\end{axis}
\end{tikzpicture}
\end{document}
